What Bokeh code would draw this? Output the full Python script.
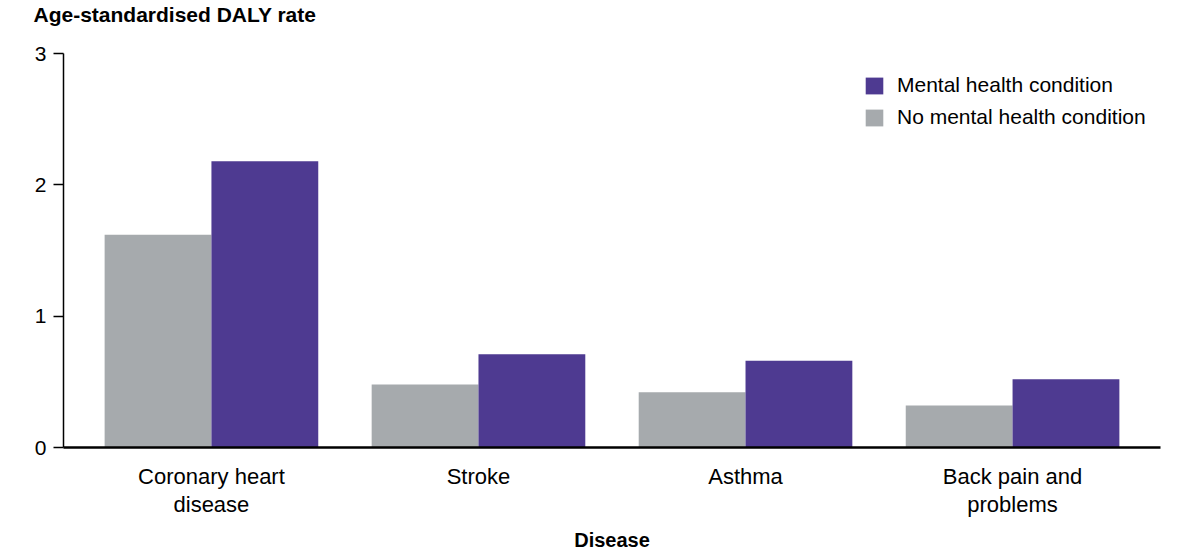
from bokeh.plotting import figure
from bokeh.models import FixedTicker, Legend, LegendItem, Range1d, Title
from bokeh.embed import file_html
from bokeh.resources import INLINE

# ---- data ----
categories = ["Coronary heart\ndisease", "Stroke", "Asthma", "Back pain and\nproblems"]
mental = [2.18, 0.71, 0.66, 0.52]
no_mental = [1.62, 0.48, 0.42, 0.32]
y_ticks = [0, 1, 2, 3]
title_text = "Age-standardised DALY rate"
x_title = "Disease"
series_names = ["Mental health condition", "No mental health condition"]

PURPLE = "#4E3A91"
GREY = "#A6AAAD"
FONT = "Liberation Sans"

xs = list(range(len(categories)))

p = figure(width=1184, height=556, output_backend="svg", toolbar_location=None,
           x_range=Range1d(-0.554, 3.554), y_range=Range1d(0, 3),
           min_border_left=63, min_border_right=24, min_border_top=0, min_border_bottom=109)
p.outline_line_color = None
p.xgrid.visible = False
p.ygrid.visible = False
p.background_fill_color = "white"
p.border_fill_color = "white"

# main title (outermost panel)
p.title.text = title_text
p.title.align = "left"
p.title.offset = -30
p.title.standoff = 0
p.title.text_font = FONT
p.title.text_font_size = "21px"
p.title.text_font_style = "bold"
p.title.text_color = "black"

# spacer between the title and the frame
spacer = Title(text=" ", standoff=3, text_font=FONT, text_font_size="21px")
p.add_layout(spacer, "above")

r_no = p.vbar(x=[x - 0.2 for x in xs], top=no_mental, width=0.4, bottom=0,
              fill_color=GREY, line_color=None)
r_m = p.vbar(x=[x + 0.2 for x in xs], top=mental, width=0.4, bottom=0,
             fill_color=PURPLE, line_color=None)

# x axis
xa = p.xaxis[0]
xa.ticker = FixedTicker(ticks=xs)
xa.major_label_overrides = {i: c for i, c in enumerate(categories)}
xa.major_tick_out = 0
xa.major_tick_in = 0
xa.minor_tick_out = 0
xa.minor_tick_in = 0
xa.axis_line_width = 2.5
xa.axis_line_color = "black"
xa.major_label_text_font = FONT
xa.major_label_text_font_size = "22px"
xa.major_label_text_line_height = 1.15
xa.major_label_text_color = "black"
xa.major_label_standoff = 16
xa.axis_label = x_title
xa.axis_label_text_font = FONT
xa.axis_label_text_font_size = "20px"
xa.axis_label_text_font_style = "bold"
xa.axis_label_text_color = "black"
xa.axis_label_standoff = 9

# y axis
ya = p.yaxis[0]
ya.ticker = FixedTicker(ticks=y_ticks)
ya.major_tick_out = 10
ya.major_tick_in = 0
ya.minor_tick_out = 0
ya.minor_tick_in = 0
ya.major_tick_line_width = 1.5
ya.axis_line_width = 1.5
ya.axis_line_color = "black"
ya.major_tick_line_color = "black"
ya.major_label_text_font = FONT
ya.major_label_text_font_size = "21px"
ya.major_label_text_color = "black"
ya.major_label_standoff = 7

legend = Legend(items=[LegendItem(label=series_names[0], renderers=[r_m]),
                       LegendItem(label=series_names[1], renderers=[r_no])],
                location=(800, 318), orientation="vertical",
                glyph_width=22, glyph_height=21, label_standoff=12, spacing=8,
                padding=0, margin=0, border_line_color=None, background_fill_alpha=0,
                label_text_font=FONT, label_text_font_size="21px", label_text_color="black")
p.add_layout(legend, "center")

open("out.html", "w").write(file_html(p, INLINE))
